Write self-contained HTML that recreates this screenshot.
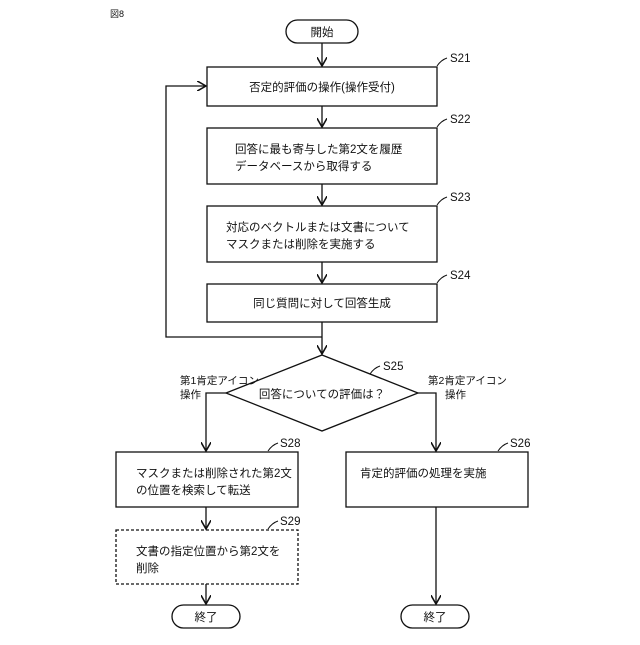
<!DOCTYPE html><html><head><meta charset="utf-8"><style>body{margin:0;background:#fff}text{font-family:"Liberation Sans","Noto Sans CJK JP",sans-serif;fill:#111}</style></head><body>
<svg width="640" height="640" viewBox="0 0 640 640" xmlns="http://www.w3.org/2000/svg">
<defs><marker id="a" markerWidth="8" markerHeight="8" refX="7" refY="4" orient="auto"><path d="M0,0 L7,4 L0,8" fill="none" stroke="#111" stroke-width="1.2"/></marker></defs>
<g stroke="#111" stroke-width="1.3" fill="none">
<rect x="286" y="20" width="72" height="23" rx="11.5"/>
<rect x="207" y="67" width="230" height="39"/>
<rect x="207" y="128" width="230" height="56"/>
<rect x="207" y="206" width="230" height="56"/>
<rect x="207" y="284" width="230" height="38"/>
<path d="M322,355 L418,393 L322,431 L226,393 Z"/>
<rect x="116" y="452" width="182" height="55"/>
<rect x="116" y="530" width="182" height="54" stroke-dasharray="3,2"/>
<rect x="346" y="452" width="182" height="55"/>
<rect x="172" y="605" width="68" height="23" rx="11.5"/>
<rect x="401" y="605" width="68" height="23" rx="11.5"/>
<line x1="322" y1="43" x2="322" y2="66" marker-end="url(#a)"/>
<line x1="322" y1="106" x2="322" y2="127" marker-end="url(#a)"/>
<line x1="322" y1="184" x2="322" y2="205" marker-end="url(#a)"/>
<line x1="322" y1="262" x2="322" y2="283" marker-end="url(#a)"/>
<line x1="322" y1="322" x2="322" y2="354" marker-end="url(#a)"/>
<polyline points="322,337 166,337 166,86 206,86" marker-end="url(#a)"/>
<polyline points="226,393 206,393 206,451" marker-end="url(#a)"/>
<polyline points="418,393 436,393 436,451" marker-end="url(#a)"/>
<line x1="206" y1="507" x2="206" y2="529" marker-end="url(#a)"/>
<line x1="206" y1="584" x2="206" y2="604" marker-end="url(#a)"/>
<line x1="436" y1="507" x2="436" y2="604" marker-end="url(#a)"/>
<path d="M437,66 q4,-6 10,-8 M437,127 q4,-6 10,-8 M437,205 q4,-6 10,-8 M437,283 q4,-6 10,-8 M370,374 q4,-6 10,-8 M268,451 q4,-6 10,-8 M268,529 q4,-6 10,-8 M498,451 q4,-6 10,-8" stroke-width="1"/>
</g>
<g font-size="11.5">
<text x="110" y="17" font-size="9">図8</text>
<text x="322" y="36" text-anchor="middle">開始</text>
<text x="322" y="91" text-anchor="middle">否定的評価の操作(操作受付)</text>
<text x="235" y="153">回答に最も寄与した第2文を履歴</text>
<text x="235" y="170">データベースから取得する</text>
<text x="226" y="231">対応のベクトルまたは文書について</text>
<text x="226" y="248">マスクまたは削除を実施する</text>
<text x="322" y="307" text-anchor="middle">同じ質問に対して回答生成</text>
<text x="322" y="398" text-anchor="middle">回答についての評価は？</text>
<text x="180" y="384" font-size="10.5">第1肯定アイコン</text>
<text x="180" y="398" font-size="10.5">操作</text>
<text x="428" y="384" font-size="10.5">第2肯定アイコン</text>
<text x="445" y="398" font-size="10.5">操作</text>
<text x="136" y="477">マスクまたは削除された第2文</text>
<text x="136" y="494">の位置を検索して転送</text>
<text x="136" y="555">文書の指定位置から第2文を</text>
<text x="136" y="572">削除</text>
<text x="360" y="477">肯定的評価の処理を実施</text>
<text x="206" y="621" text-anchor="middle">終了</text>
<text x="435" y="621" text-anchor="middle">終了</text>
<text x="450" y="62">S21</text><text x="450" y="123">S22</text><text x="450" y="201">S23</text><text x="450" y="279">S24</text>
<text x="383" y="370">S25</text><text x="280" y="447">S28</text><text x="280" y="525">S29</text><text x="510" y="447">S26</text>
</g>
</svg></body></html>
